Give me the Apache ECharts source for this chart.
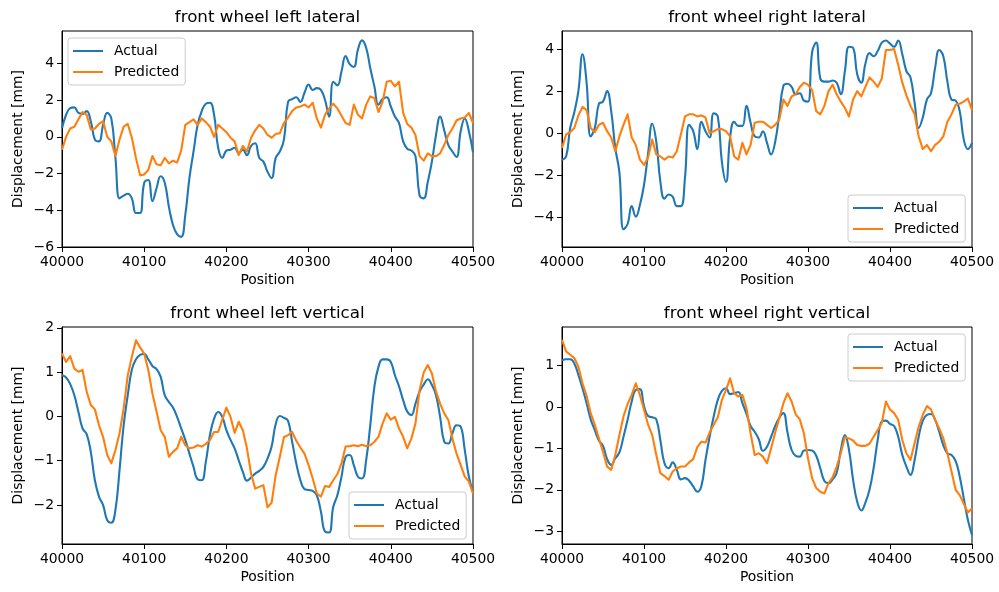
<!DOCTYPE html>
<html>
<head>
<meta charset="utf-8">
<script src="https://cdn.jsdelivr.net/npm/echarts@6/dist/echarts.min.js"></script>
<style>
  html, body { margin: 0; padding: 0; background: #fff; }
  #chart { width: 999px; height: 592px; }
</style>
</head>
<body>
<div id="chart"></div>
<script>
// Sampling of the track position (one value every 5 units from 40000 to 40500)
const POS_START = 40000;
const POS_STEP = 5;

const titles = [
  'front wheel left lateral',
  'front wheel right lateral',
  'front wheel left vertical',
  'front wheel right vertical'
];
const seriesNames = ['Actual', 'Predicted'];
const xTicks = [40000, 40100, 40200, 40300, 40400, 40500];
const yTicksLL = [-6, -4, -2, 0, 2, 4];
const yTicksRL = [-4, -2, 0, 2, 4];
const yTicksLV = [-2, -1, 0, 1, 2];
const yTicksRV = [-3, -2, -1, 0, 1];

// Left lateral displacement [mm]
const leftLateralActual = [
  0.47, 1.2, 1.56, 1.6, 1.3, 1.25, 1.4, 0.85, -0.15, -0.25,
  0.65, 1.3, 1.0, -1.15, -3.35, -3.2, -3.1, -3.35, -4.15, -4.15,
  -2.5, -2.35, -3.5, -2.8, -2.15, -2.5, -3.8, -4.8, -5.3, -5.45,
  -4.25, -2.25, -0.8, 0.65, 1.4, 1.8, 1.85, 1.2, -0.6, -1.15,
  -0.75, -0.7, -0.6, -0.9, -0.7, -1.0, -0.5, -0.35, -1.15, -1.35,
  -1.9, -2.25, -1.15, -0.8, -0.15, 1.9, 2.05, 2.15, 1.9, 2.4,
  2.85, 2.55, 2.65, 2.55, 2.0, 1.1, 3.0, 2.8, 3.55, 4.4,
  3.95, 3.8, 4.75, 5.25, 4.85, 3.75, 2.75, 1.75, 2.05, 2.15,
  1.65, 1.1, 0.75, -0.25, -0.65, -0.75, -1.05, -3.2, -3.35, -2.45,
  -1.35, 0.1, 1.1, 0.35, -0.45, -0.8, -1.1, 0.3, 1.0, 0.3,
  -0.85
];
const leftLateralPredicted = [
  -0.7, 0.0, 0.45, 0.55, 0.95, 1.35, 1.2, 0.4, 0.45, 0.7,
  0.85, 0.0, -0.25, -1.05, -0.15, 0.55, 0.7, -0.05, -1.15, -2.1,
  -2.05, -1.8, -1.05, -1.5, -1.55, -1.15, -1.45, -1.3, -1.4, -0.75,
  0.65, 0.8, 0.95, 0.65, 1.0, 0.8, 0.55, 0.0, 0.65, 0.45,
  0.25, -0.05, -0.25, -1.0, -0.5, -0.8, -0.05, 0.35, 0.65, 0.45,
  0.1, -0.05, 0.15, 0.2, 0.75, 1.05, 1.4, 1.6, 1.65, 1.75,
  1.6, 1.85, 1.0, 0.5, 1.2, 1.55, 1.8, 1.55, 1.15, 0.75,
  0.65, 1.75, 1.2, 1.0, 1.75, 2.2, 2.1, 1.35, 1.9, 3.0,
  3.05, 2.75, 3.0, 1.3, 0.7, 0.5, 0.1, -1.05, -1.3, -0.9,
  -1.05, -1.05, -0.9, -0.45, 0.1, 0.45, 0.9, 1.0, 1.05, 1.3,
  0.75
];

// Right lateral displacement [mm]
const rightLateralActual = [
  -1.25, -1.1, 0.25, 1.0, 2.0, 3.75, 2.4, -0.15, 0.25, 1.4,
  1.5, 2.0, 1.05, -0.7, -1.85, -4.55, -4.3, -3.45, -3.95, -3.4,
  -2.45, -0.95, 0.45, -0.4, -2.3, -3.1, -2.9, -3.0, -3.45, -3.45,
  -2.1, 0.4, 0.1, -0.75, 0.55, 0.1, -0.2, 0.95, 0.8, -1.35,
  -2.3, -0.2, 0.55, 0.35, 0.35, 1.3, 0.5, -0.15, -0.2, 0.1,
  -0.45, -1.0, -0.4, 0.9, 2.25, 2.35, 2.2, 1.85, 1.9, 1.55,
  1.5, 3.85, 4.3, 2.6, 2.45, 2.45, 2.5, 2.4, 1.85, 2.95,
  4.1, 4.05, 2.8, 2.4, 3.3, 3.8, 3.65, 3.9, 4.3, 4.4,
  4.25, 4.1, 4.4, 3.75, 2.95, 2.65, 1.45, 0.25, 0.75, 1.6,
  1.9, 3.1, 3.95, 3.65, 2.45, 1.6, 1.55, 1.05, -0.3, -0.75,
  -0.45
];
const rightLateralPredicted = [
  -0.7, -0.05, 0.05, 0.25, 0.85, 1.25, 1.1, 0.25, 0.05, 0.4,
  0.5, 0.1, -0.2, -0.85, -0.15, 0.4, 0.9, -0.2, -0.55, -1.25,
  -1.5, -1.15, -0.3, -1.0, -1.1, -1.25, -1.1, -1.15, -0.85, -0.05,
  0.8, 0.9, 0.9, 0.8, 0.85, 0.75, 0.0, 0.1, 0.2, 0.2,
  0.1, -0.15, -1.1, -1.25, -0.45, -1.0, -0.55, 0.5, 0.55, 0.55,
  0.4, 0.25, 0.4, 0.65, 1.6, 1.3, 1.75, 1.85, 2.2, 2.4,
  2.3, 2.05, 1.05, 0.9, 1.3, 2.0, 2.3, 1.85, 1.5, 1.2,
  0.8, 1.6, 2.0, 1.75, 2.2, 2.65, 2.45, 2.2, 2.6, 3.95,
  3.95, 4.0, 3.25, 2.4, 1.8, 1.3, 0.9, -0.15, -0.75, -0.55,
  -0.85, -0.55, -0.4, -0.15, 0.55, 0.9, 1.35, 1.4, 1.5, 1.65,
  1.1
];

// Left vertical displacement [mm]
const leftVerticalActual = [
  0.93, 0.88, 0.73, 0.48, 0.1, -0.27, -0.4, -0.8, -1.44, -1.81,
  -2.0, -2.34, -2.4, -2.11, -1.21, -0.2, 0.48, 1.06, 1.29, 1.39,
  1.41, 1.29, 1.14, 1.07, 0.9, 0.48, 0.33, 0.2, -0.01, -0.27,
  -0.53, -0.84, -1.14, -1.42, -1.44, -1.02, -0.42, -0.05, 0.1, -0.01,
  -0.31, -0.53, -0.72, -0.99, -1.25, -1.45, -1.38, -1.29, -1.23, -1.14,
  -0.95, -0.68, -0.17, 0.01, -0.03, -0.1, -0.57, -1.06, -1.44, -1.64,
  -1.66, -1.68, -1.78, -2.15, -2.6, -2.62, -2.04, -1.78, -1.36, -0.91,
  -0.87, -1.1, -1.36, -1.4, -0.99, -0.2, 0.67, 1.12, 1.29, 1.29,
  1.23, 0.93, 0.68, 0.37, 0.11, 0.03, 0.29, 0.56, 0.72, 0.84,
  0.71, 0.48, -0.01, -0.57, -0.61, -0.38, -0.2, -0.23, -0.76, -1.36,
  -1.7
];
const leftVerticalPredicted = [
  1.42, 1.23, 1.36, 1.08, 1.01, 1.05, 0.56, 0.26, 0.16, -0.2,
  -0.46, -0.87, -1.06, -0.76, -0.38, 0.18, 0.93, 1.35, 1.72, 1.56,
  1.42, 1.05, 0.52, 0.11, -0.31, -0.46, -0.91, -0.8, -0.72, -0.46,
  -0.65, -0.72, -0.7, -0.65, -0.68, -0.62, -0.53, -0.35, -0.35, -0.07,
  0.2, -0.01, -0.37, -0.12, -0.31, -0.72, -1.29, -1.63, -1.59, -1.55,
  -2.05, -1.95, -1.32, -0.91, -0.47, -0.42, -0.35, -0.55, -0.7, -0.84,
  -1.1, -1.4, -1.74, -1.81, -1.57, -1.59, -1.44, -1.3, -1.06, -0.68,
  -0.67, -0.65, -0.67, -0.64, -0.67, -0.65, -0.57, -0.46, -0.16, 0.07,
  -0.07, -0.01, -0.27, -0.46, -0.72, -0.5, -0.16, 0.59, 0.99, 1.16,
  0.97, 0.56, 0.29, 0.07, -0.08, -0.5, -0.84, -1.1, -1.36, -1.47,
  -1.74
];

// Right vertical displacement [mm]
const rightVerticalActual = [
  1.12, 1.15, 1.15, 1.05, 0.77, 0.45, 0.09, -0.3, -0.56, -0.81,
  -0.94, -1.26, -1.4, -1.24, -1.1, -0.72, -0.31, 0.13, 0.41, 0.43,
  0.02, -0.22, -0.25, -0.3, -0.81, -1.36, -1.48, -1.34, -1.52, -1.75,
  -1.72, -1.78, -1.92, -2.05, -1.91, -1.28, -0.72, -0.23, 0.17, 0.39,
  0.45, 0.31, 0.33, 0.36, 0.09, -0.17, -0.46, -0.6, -0.78, -1.06,
  -0.96, -0.72, -0.46, -0.26, -0.15, -0.62, -1.04, -1.18, -1.2, -1.05,
  -1.04, -1.05, -1.18, -1.48, -1.79, -1.84, -1.75, -1.59, -1.04, -0.68,
  -1.04, -1.76, -2.29, -2.5, -2.31, -2.0, -1.48, -0.8, -0.35, -0.33,
  -0.41, -0.46, -0.72, -1.16, -1.44, -1.64, -1.28, -0.72, -0.33, -0.19,
  -0.17, -0.31, -0.6, -0.92, -1.12, -1.16, -1.3, -1.68, -2.21, -2.73,
  -3.09
];
const rightVerticalPredicted = [
  1.62, 1.34, 1.26, 1.18, 0.97, 0.57, 0.27, -0.15, -0.43, -0.76,
  -1.08, -1.44, -1.52, -1.16, -0.68, -0.23, 0.07, 0.29, 0.57, 0.29,
  -0.07, -0.43, -0.68, -1.16, -1.6, -1.67, -1.76, -1.56, -1.48, -1.44,
  -1.44, -1.34, -1.26, -0.97, -0.84, -0.86, -0.62, -0.43, -0.25, 0.17,
  0.41, 0.69, 0.33, 0.25, 0.29, -0.03, -0.64, -1.16, -1.12, -1.2,
  -1.36, -1.0, -0.62, -0.27, 0.09, 0.33, 0.13, -0.18, -0.3, -0.64,
  -1.24, -1.72, -1.96, -2.05, -2.09, -1.84, -1.7, -1.44, -1.12, -0.73,
  -0.76, -0.81, -0.92, -0.94, -0.94, -0.89, -0.72, -0.56, -0.39, 0.13,
  -0.06, -0.15, -0.31, -0.8, -1.12, -1.28, -0.88, -0.48, -0.19, 0.02,
  -0.06, -0.31, -0.52, -0.76, -1.12, -1.56, -2.0, -2.13, -2.34, -2.55,
  -2.45
];

const FONT = "'DejaVu Sans', sans-serif";
const BLUE = '#1f77b4';
const ORANGE = '#ff7f0e';
const minus = v => String(v).replace('-', '\u2212');

// Panel layout: plot rectangles in pixels
const panels = [
  { left: 62,  top: 31,  width: 411, height: 216, ymin: -6,    ymax: 5.76, ticks: yTicksLL,
    act: leftLateralActual,  pred: leftLateralPredicted,
    legend: { left: 68, top: 38 } },
  { left: 562, top: 31,  width: 410, height: 216, ymin: -5.39, ymax: 4.85, ticks: yTicksRL,
    act: rightLateralActual, pred: rightLateralPredicted,
    legend: { left: 848, top: 195 } },
  { left: 62,  top: 327, width: 411, height: 217, ymin: -2.88, ymax: 2.02, ticks: yTicksLV,
    act: leftVerticalActual, pred: leftVerticalPredicted,
    legend: { left: 349, top: 492 } },
  { left: 562, top: 327, width: 410, height: 217, ymin: -3.31, ymax: 1.93, ticks: yTicksRV,
    act: rightVerticalActual, pred: rightVerticalPredicted,
    legend: { left: 848, top: 334 } }
];

const toPairs = arr => arr.map((v, i) => [POS_START + i * POS_STEP, v]);

const tickStyle = { show: true, length: 5, inside: false, lineStyle: { color: '#000', width: 1 } };
const labelStyle = { color: '#000', fontFamily: FONT, fontSize: 13.9 };

const option = {
  animation: false,
  backgroundColor: '#fff',
  title: panels.map((p, i) => ({
    text: titles[i],
    left: p.left + p.width / 2,
    top: p.top - 22,
    textAlign: 'center',
    padding: 0,
    textStyle: { color: '#000', fontFamily: FONT, fontSize: 16.7, fontWeight: 'normal' }
  })),
  grid: panels.map(p => ({
    left: p.left, top: p.top, width: p.width, height: p.height,
    show: true, borderColor: '#000', borderWidth: 1, backgroundColor: 'transparent',
    containLabel: false
  })),
  xAxis: panels.map((p, i) => ({
    type: 'value', gridIndex: i,
    min: 40000, max: 40500, interval: 100,
    name: 'Position', nameLocation: 'middle', nameGap: 26,
    nameTextStyle: labelStyle,
    axisLine: { show: true, onZero: false, lineStyle: { color: '#000', width: 1 } },
    axisTick: Object.assign({ customValues: xTicks }, tickStyle),
    axisLabel: Object.assign({ margin: 8, customValues: xTicks, formatter: v => String(v) }, labelStyle),
    splitLine: { show: false }
  })),
  yAxis: panels.map((p, i) => ({
    type: 'value', gridIndex: i,
    min: p.ymin, max: p.ymax,
    name: 'Displacement [mm]', nameLocation: 'middle', nameGap: 37, nameRotate: 90,
    nameTextStyle: labelStyle,
    axisLine: { show: true, onZero: false, lineStyle: { color: '#000', width: 1 } },
    axisTick: Object.assign({ customValues: p.ticks }, tickStyle),
    axisLabel: Object.assign({ margin: 8, customValues: p.ticks, formatter: minus }, labelStyle),
    splitLine: { show: false }
  })),
  legend: panels.map(p => ({
    orient: 'vertical',
    left: p.legend.left, top: p.legend.top,
    data: seriesNames,
    icon: 'rect', itemWidth: 30, itemHeight: 2, itemGap: 5,
    padding: [5, 6, 5, 5],
    backgroundColor: 'rgba(255,255,255,0.8)',
    borderColor: '#cccccc', borderWidth: 1, borderRadius: 3,
    selectedMode: false,
    textStyle: { color: '#000', fontFamily: FONT, fontSize: 13.9, lineHeight: 16, padding: [0, 0, 0, 6] }
  })),
  series: []
};

panels.forEach((p, i) => {
  // measured response: smooth curve
  option.series.push({
    name: seriesNames[0], type: 'line', xAxisIndex: i, yAxisIndex: i,
    data: toPairs(p.act), showSymbol: false, symbol: 'none', smooth: 0.45,
    color: BLUE, lineStyle: { color: BLUE, width: 2.1, join: 'round' }, z: 2
  });
  // model output: raw polyline
  option.series.push({
    name: seriesNames[1], type: 'line', xAxisIndex: i, yAxisIndex: i,
    data: toPairs(p.pred), showSymbol: false, symbol: 'none',
    color: ORANGE, lineStyle: { color: ORANGE, width: 2.1, join: 'round' }, z: 3
  });
});

const chart = echarts.init(document.getElementById('chart'), null, { renderer: 'canvas' });
chart.setOption(option);
</script>
</body>
</html>
